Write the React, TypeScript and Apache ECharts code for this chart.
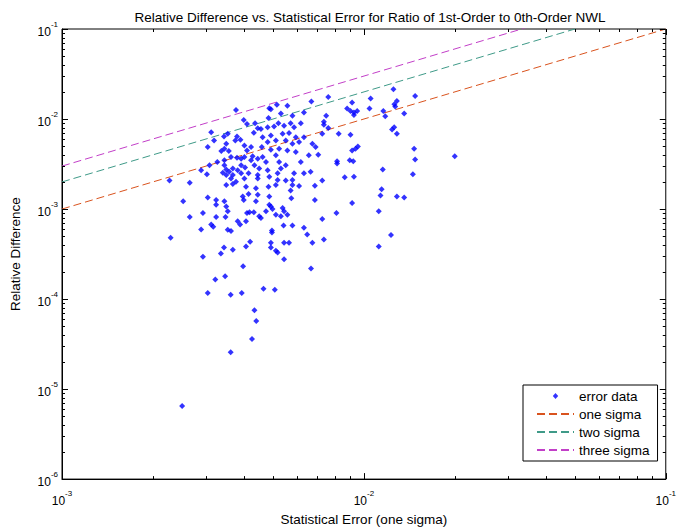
import React, { useEffect, useRef } from "react";
import * as echarts from "echarts";

const statErr = [
  3.77e-3, 4.0e-3, 4.10e-3, 4.36e-3, 4.45e-3, 4.32e-3, 3.12e-3, 3.19e-3, 3.44e-3, 3.54e-3,
  3.80e-3, 3.90e-3, 3.75e-3, 3.50e-3, 3.45e-3, 3.37e-3, 3.57e-3, 4.02e-3, 4.10e-3, 4.23e-3,
  3.63e-3, 3.80e-3, 3.92e-3, 4.02e-3, 3.45e-3, 3.27e-3, 3.08e-3, 3.45e-3, 3.50e-3, 3.58e-3,
  3.68e-3, 3.82e-3, 3.92e-3, 4.04e-3, 4.23e-3, 4.28e-3, 4.45e-3, 4.34e-3, 4.15e-3, 2.89e-3,
  3.02e-3, 3.41e-3, 3.92e-3, 3.68e-3, 3.50e-3, 6.70e-3, 5.15e-3, 5.58e-3, 4.92e-3, 4.86e-3,
  7.62e-3, 5.31e-3, 6.33e-3, 5.80e-3, 7.50e-3, 4.83e-3, 4.56e-3, 4.80e-3, 5.04e-3, 5.21e-3,
  5.44e-3, 5.72e-3, 5.87e-3, 6.18e-3, 7.37e-3, 7.62e-3, 7.28e-3, 8.25e-3, 5.38e-3, 5.65e-3,
  5.95e-3, 6.33e-3, 4.62e-3, 4.92e-3, 4.80e-3, 5.11e-3, 5.51e-3, 5.80e-3, 6.10e-3, 6.75e-3,
  6.92e-3, 4.59e-3, 4.92e-3, 5.24e-3, 5.58e-3, 5.11e-3, 5.95e-3, 6.57e-3, 7.06e-3, 4.62e-3,
  4.74e-3, 5.24e-3, 5.31e-3, 5.51e-3, 6.18e-3, 5.18e-3, 5.87e-3, 6.33e-3, 6.66e-3, 4.50e-3,
  4.80e-3, 4.45e-3, 2.27e-3, 2.65e-3, 3.63e-3, 3.50e-3, 3.68e-3, 3.77e-3, 4.02e-3, 4.45e-3,
  4.07e-3, 4.39e-3, 2.52e-3, 3.04e-3, 3.24e-3, 3.24e-3, 3.45e-3, 3.50e-3, 3.54e-3, 3.97e-3,
  4.15e-3, 4.0e-3, 4.45e-3, 4.39e-3, 2.93e-3, 2.65e-3, 3.24e-3, 3.48e-3, 4.10e-3, 4.18e-3,
  4.32e-3, 4.50e-3, 3.82e-3, 4.07e-3, 3.89e-3, 3.12e-3, 3.17e-3, 2.89e-3, 3.54e-3, 3.63e-3,
  2.29e-3, 4.20e-3, 3.44e-3, 3.68e-3, 4.07e-3, 3.36e-3, 2.93e-3, 4.86e-3, 5.18e-3, 5.51e-3,
  5.80e-3, 7.28e-3, 8.64e-3, 9.27e-3, 4.83e-3, 5.11e-3, 5.80e-3, 6.10e-3, 6.88e-3, 4.86e-3,
  5.72e-3, 5.75e-3, 6.88e-3, 9.14e-3, 4.86e-3, 4.92e-3, 4.74e-3, 4.98e-3, 5.38e-3, 5.44e-3,
  5.11e-3, 5.31e-3, 5.58e-3, 4.56e-3, 7.28e-3, 8.11e-3, 5.42e-3, 5.80e-3, 6.33e-3, 6.49e-3,
  4.96e-3, 4.96e-3, 7.37e-3, 6.75e-3, 4.92e-3, 5.44e-3, 5.65e-3, 4.92e-3, 5.11e-3, 5.18e-3,
  3.22e-3, 3.47e-3, 3.98e-3, 6.68e-3, 3.04e-3, 3.62e-3, 3.94e-3, 4.65e-3, 5.07e-3, 4.34e-3,
  4.40e-3, 4.26e-3, 3.62e-3, 5.44e-3, 9.14e-3, 8.80e-3, 9.03e-3, 9.27e-3, 9.5e-3, 9.27e-3,
  1.053e-2, 1.044e-2, 1.253e-2, 1.286e-2, 1.262e-2, 1.27e-2, 1.478e-2, 1.16e-2, 1.177e-2, 1.36e-2,
  9.03e-3, 1.24e-2, 1.26e-2, 1.286e-2, 9.14e-3, 9.38e-3, 9.55e-3, 8.98e-3, 9.22e-3, 8.15e-3,
  8.15e-3, 1.467e-2, 1.478e-2, 1.453e-2, 1.155e-2, 1.145e-2, 1.135e-2, 1.286e-2, 1.36e-2, 1.12e-2,
  2.0e-2, 1.12e-2, 1.23e-2, 7.37e-3, 3.04e-3, 2.5e-3,
];

const relDiff = [
  1.26e-2, 9.75e-3, 8.81e-3, 8.97e-3, 7.91e-3, 7.02e-3, 7.14e-3, 5.78e-3, 6.39e-3, 6.84e-3,
  6.39e-3, 5.88e-3, 5.78e-3, 5.31e-3, 4.68e-3, 4.42e-3, 4.42e-3, 5.09e-3, 4.48e-3, 4.89e-3,
  3.79e-3, 3.72e-3, 3.63e-3, 3.79e-3, 3.48e-3, 3.34e-3, 3.07e-3, 3.07e-3, 2.75e-3, 2.60e-3,
  2.82e-3, 2.70e-3, 3.07e-3, 2.89e-3, 3.48e-3, 3.85e-3, 3.63e-3, 3.07e-3, 2.49e-3, 2.70e-3,
  2.44e-3, 2.53e-3, 2.49e-3, 2.39e-3, 2.39e-3, 1.565e-2, 1.436e-2, 1.40e-2, 1.288e-2, 1.32e-2,
  1.758e-2, 1.155e-2, 1.185e-2, 1.087e-2, 1.087e-2, 1.026e-2, 7.77e-3, 8.11e-3, 8.25e-3, 8.97e-3,
  8.44e-3, 8.97e-3, 8.11e-3, 8.97e-3, 8.66e-3, 7.97e-3, 6.84e-3, 6.84e-3, 6.84e-3, 7.0e-3,
  6.26e-3, 6.26e-3, 6.26e-3, 6.55e-3, 5.54e-3, 5.78e-3, 5.78e-3, 5.31e-3, 5.54e-3, 5.31e-3,
  4.89e-3, 4.89e-3, 4.56e-3, 4.68e-3, 4.48e-3, 3.95e-3, 4.30e-3, 3.95e-3, 4.02e-3, 3.79e-3,
  3.34e-3, 3.34e-3, 2.82e-3, 3.07e-3, 3.34e-3, 2.49e-3, 2.49e-3, 2.49e-3, 2.60e-3, 2.82e-3,
  2.70e-3, 2.39e-3, 2.07e-3, 1.96e-3, 2.19e-3, 1.85e-3, 1.90e-3, 2.01e-3, 2.19e-3, 2.19e-3,
  1.77e-3, 1.70e-3, 1.22e-3, 1.34e-3, 1.26e-3, 1.115e-3, 1.22e-3, 1.07e-3, 9.44e-4, 1.38e-3,
  1.47e-3, 1.26e-3, 1.44e-3, 1.22e-3, 9.04e-4, 8.16e-4, 8.16e-4, 8.16e-4, 9.04e-4, 9.2e-4,
  9.2e-4, 8.3e-4, 7.33e-4, 7.33e-4, 6.73e-4, 6.73e-4, 6.35e-4, 5.92e-4, 5.88e-4, 5.69e-4,
  4.80e-4, 4.34e-4, 3.73e-4, 3.52e-4, 3.83e-4, 3.2e-4, 2.96e-4, 2.29e-3, 2.10e-3, 2.07e-3,
  2.10e-3, 2.07e-3, 2.25e-3, 2.29e-3, 1.77e-3, 1.85e-3, 1.85e-3, 1.80e-3, 1.82e-3, 1.38e-3,
  1.61e-3, 1.32e-3, 1.26e-3, 1.164e-3, 1.115e-3, 1.07e-3, 9.44e-4, 1.0e-3, 1.026e-3, 9.44e-4,
  8.66e-4, 8.3e-4, 8.66e-4, 7.96e-4, 7.76e-4, 9.04e-4, 6.55e-4, 6.55e-4, 6.18e-4, 5.22e-4,
  5.78e-4, 5.5e-4, 4.6e-4, 4.23e-4, 4.23e-4, 4.23e-4, 4.23e-4, 3.73e-4, 3.45e-4, 3.28e-4,
  1.65e-4, 1.79e-4, 2.31e-4, 2.19e-4, 1.17e-4, 1.12e-4, 1.17e-4, 1.30e-4, 1.27e-4, 7.5e-5,
  5.7e-5, 3.6e-5, 2.57e-5, 2.77e-4, 1.53e-2, 1.31e-2, 1.23e-2, 1.185e-2, 1.23e-2, 1.107e-2,
  1.69e-2, 1.31e-2, 2.137e-2, 1.59e-2, 1.462e-2, 1.38e-2, 1.80e-2, 1.23e-2, 1.07e-2, 1.155e-2,
  6.67e-3, 7.63e-3, 8.11e-3, 6.84e-3, 4.48e-3, 4.68e-3, 4.96e-3, 3.48e-3, 3.40e-3, 3.40e-3,
  3.20e-3, 4.68e-3, 3.54e-3, 2.44e-3, 2.75e-3, 1.66e-3, 1.41e-3, 1.38e-3, 1.34e-3, 9.44e-4,
  3.85e-3, 3.83e-4, 5.14e-4, 9.3e-3, 4.89e-3, 6.5e-6,
];

// Sigma reference lines: relative difference = k * statistical error
const lineX = [1e-3, 1e-1];
const sigmaMultipliers = [1, 2, 3];
const sigmaNames = ["one sigma", "two sigma", "three sigma"];
const sigmaColors = ["#d9531e", "#3f9a88", "#c23fc8"];

const xMajorTicks = [1e-3, 1e-2, 1e-1];
const yMajorTicks = [1e-6, 1e-5, 1e-4, 1e-3, 1e-2, 1e-1];
const minorMantissas = [2, 3, 4, 5, 6, 7, 8, 9];

const FONT = "'Liberation Sans', Arial, sans-serif";

export default function App() {
  const ref = useRef<HTMLDivElement>(null);

  useEffect(() => {
    if (!ref.current) return;
    const chart = echarts.init(ref.current, undefined, { renderer: "svg" });

    const scatterData = statErr.map((x, i) => [x, relDiff[i]]);

    const tickData: number[][] = [];
    xMajorTicks.forEach((v) => tickData.push([v, 1e-3, 0, 1]));
    xMajorTicks.slice(0, -1).forEach((d) =>
      minorMantissas.forEach((m) => tickData.push([d * m, 1e-3, 0, 0]))
    );
    yMajorTicks.forEach((v) => tickData.push([1e-2, v, 1, 1]));
    yMajorTicks.slice(0, -1).forEach((d) =>
      minorMantissas.forEach((m) => tickData.push([1e-2, d * m, 1, 0]))
    );

    const powLabel = (v: number) => {
      const e = Math.round(Math.log10(v));
      return "{b|10}{s|" + e + "}";
    };
    const richLabel = {
      b: { fontSize: 12, fontFamily: FONT, color: "#000", lineHeight: 18, verticalAlign: "bottom" },
      s: { fontSize: 8, fontFamily: FONT, color: "#000", lineHeight: 18, verticalAlign: "top" },
    };
    const textBase = { fontSize: 13.5, fontFamily: FONT, color: "#000" };

    const option: any = {
      animation: false,
      backgroundColor: "#fff",
      title: {
        text: "Relative Difference vs. Statistical Error for Ratio of 1st-Order to 0th-Order NWL",
        left: 365,
        textAlign: "center",
        top: 5,
        textStyle: { ...textBase, fontWeight: "normal" },
      },
      grid: {
        left: 60,
        right: 12,
        top: 29,
        bottom: 47,
        show: true,
        borderColor: "#000",
        borderWidth: 1,
        backgroundColor: "transparent",
      },
      legend: {
        left: 523,
        top: 385,
        orient: "vertical",
        backgroundColor: "#fff",
        borderColor: "#000",
        borderWidth: 1,
        borderRadius: 0,
        padding: [4, 8, 4, 13],
        itemWidth: 37,
        itemHeight: 6,
        itemGap: 4,
        textStyle: textBase,
        data: [
          { name: "error data", icon: "path://M0,0M37,6M18.5,0L21.2,3L18.5,6L15.8,3Z" },
          ...sigmaNames.map((n) => ({ name: n, itemStyle: { opacity: 0 } })),
        ],
      },
      xAxis: {
        type: "log",
        logBase: 10,
        min: 1e-3,
        max: 1e-1,
        name: "Statistical Error (one sigma)",
        nameLocation: "middle",
        nameGap: 32,
        nameTextStyle: textBase,
        axisLine: { show: true, lineStyle: { color: "#000" } },
        axisTick: { show: false },
        splitLine: { show: false },
        axisLabel: { formatter: powLabel, rich: richLabel, margin: 10, showMaxLabel: true, showMinLabel: true },
      },
      yAxis: {
        type: "log",
        logBase: 10,
        min: 1e-6,
        max: 1e-1,
        name: "Relative Difference",
        nameLocation: "middle",
        nameGap: 40,
        nameTextStyle: textBase,
        axisLine: { show: true, lineStyle: { color: "#000" } },
        axisTick: { show: false },
        splitLine: { show: false },
        axisLabel: { formatter: powLabel, rich: richLabel, margin: 4 },
      },
      series: [
        {
          name: "error data",
          type: "scatter",
          symbol: "diamond",
          symbolSize: 6,
          itemStyle: { color: "#0000ff" },
          data: scatterData,
          z: 3,
        },
        ...sigmaMultipliers.map((k, i) => ({
          name: sigmaNames[i],
          type: "line",
          showSymbol: false,
          symbol: "none",
          clip: true,
          lineStyle: { color: sigmaColors[i], width: 1, type: [8, 4] },
          itemStyle: { color: sigmaColors[i] },
          data: lineX.map((x) => [x, k * x]),
          z: 2,
        })),
        {
          type: "custom",
          silent: true,
          encode: { x: 0, y: 1 },
          data: tickData,
          z: 4,
          renderItem: (params: any, api: any) => {
            const cs = params.coordSys;
            const kind = api.value(2);
            const major = api.value(3);
            const len = major ? 6 : 3;
            const p = api.coord([api.value(0), api.value(1)]);
            const style = { stroke: "#000", lineWidth: 1 };
            if (kind === 0) {
              const x = Math.round(p[0]) + 0.5;
              const yb = cs.y + cs.height;
              return {
                type: "group",
                children: [
                  { type: "line", shape: { x1: x, y1: yb, x2: x, y2: yb - len }, style },
                  { type: "line", shape: { x1: x, y1: cs.y, x2: x, y2: cs.y + len }, style },
                ],
              };
            }
            const y = Math.round(p[1]) + 0.5;
            const xr = cs.x + cs.width;
            return {
              type: "group",
              children: [
                { type: "line", shape: { x1: cs.x, y1: y, x2: cs.x + len, y2: y }, style },
                { type: "line", shape: { x1: xr, y1: y, x2: xr - len, y2: y }, style },
              ],
            };
          },
        },
      ],
    };

    chart.setOption(option);
    return () => chart.dispose();
  }, []);

  return <div ref={ref} style={{ width: 679, height: 531, position: "absolute", left: 0, top: 0 }} />;
}
